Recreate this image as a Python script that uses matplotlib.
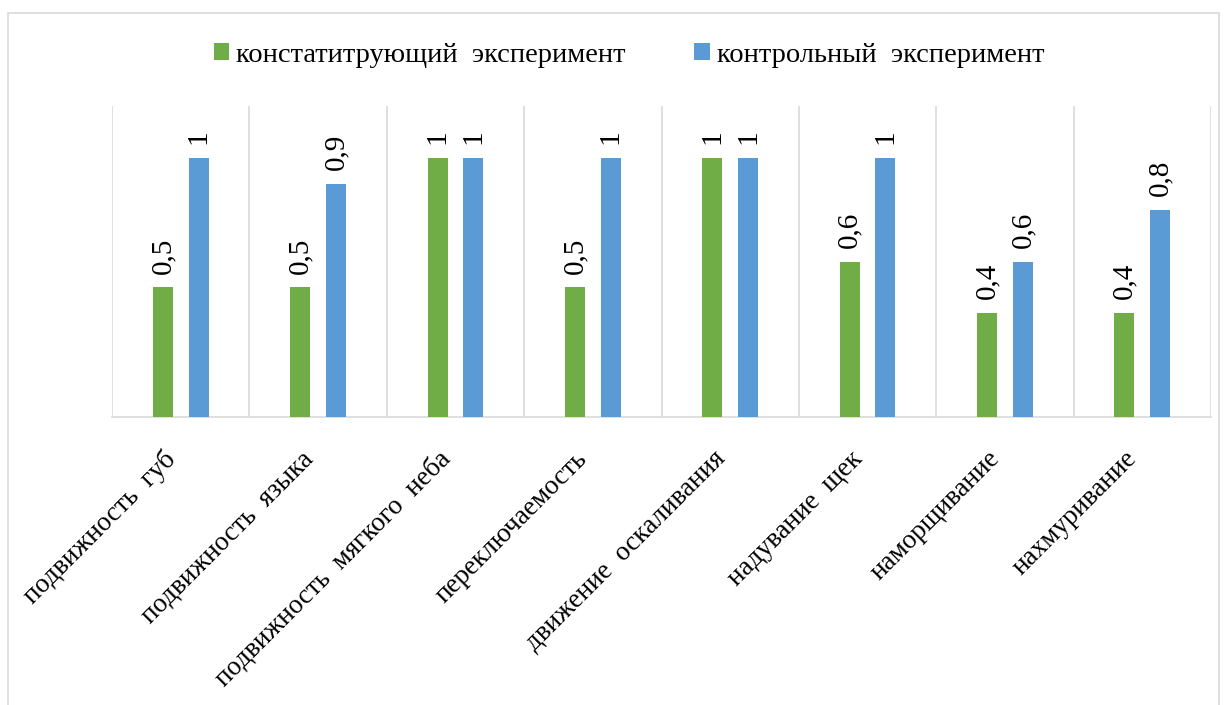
import matplotlib
matplotlib.use("Agg")
import matplotlib.pyplot as plt
import numpy as np
from matplotlib.patches import Rectangle

categories = [
    "подвижность  губ",
    "подвижность  языка",
    "подвижность  мягкого  неба",
    "переключаемость",
    "движение  оскаливания",
    "надувание  щек",
    "наморщивание",
    "нахмуривание",
]
series_names = ["констатитрующий  эксперимент", "контрольный  эксперимент"]
ascertaining = [0.5, 0.5, 1, 0.5, 1, 0.6, 0.4, 0.4]
control = [1, 0.9, 1, 1, 1, 1, 0.6, 0.8]
colors = ["#70AD47", "#5B9BD5"]

plt.rcParams["font.family"] = ["Liberation Serif", "DejaVu Serif"]

fig = plt.figure(figsize=(12.29, 7.05), dpi=100)
# outer chart frame (extends past the bottom edge like the source)
fig.patches.append(Rectangle((8 / 1229, -0.05), (1219 - 8) / 1229, 1.05 - 13 / 705,
                             transform=fig.transFigure, fill=False,
                             edgecolor="#D9D9D9", lw=1.2))

ax = fig.add_axes([112 / 1229, 1 - 417 / 705, (1211 - 112) / 1229, (417 - 106) / 705])
x = np.arange(len(categories))
w = 0.145
off = 0.13
b1 = ax.bar(x - off, ascertaining, w, color=colors[0], label=series_names[0], zorder=3)
b2 = ax.bar(x + off, control, w, color=colors[1], label=series_names[1], zorder=3)

def fmt(v):
    return ("%g" % v).replace(".", ",")

for bars, vals in ((b1, ascertaining), (b2, control)):
    for r, v in zip(bars, vals):
        ax.annotate(fmt(v), (r.get_x() + r.get_width() / 2, v), xytext=(0, 10),
                    textcoords="offset points", rotation=90, ha="center", va="bottom",
                    fontsize=21)

ax.set_xlim(-0.5, len(categories) - 0.5)
ax.set_ylim(0, 1.2)
ax.set_yticks([])
for b in np.arange(len(categories) + 1) - 0.5:
    ax.axvline(b, color="#D9D9D9", lw=1.2, zorder=1)
for s in ("top", "left", "right"):
    ax.spines[s].set_visible(False)
ax.spines["bottom"].set_color("#D9D9D9")
ax.spines["bottom"].set_linewidth(1.2)
ax.set_xticks(x)
ax.set_xticklabels(categories, rotation=45, ha="right", va="top", fontsize=19.5)
ax.tick_params(axis="x", length=0, pad=21)

ax.legend(loc="center", bbox_to_anchor=(629 / 1229, 1 - 55 / 705),
          bbox_transform=fig.transFigure, ncol=2, frameon=False, fontsize=20.5,
          handlelength=0.55, handleheight=0.55, handletextpad=0.25, columnspacing=2.4)

fig.savefig("out.png", dpi=100)
